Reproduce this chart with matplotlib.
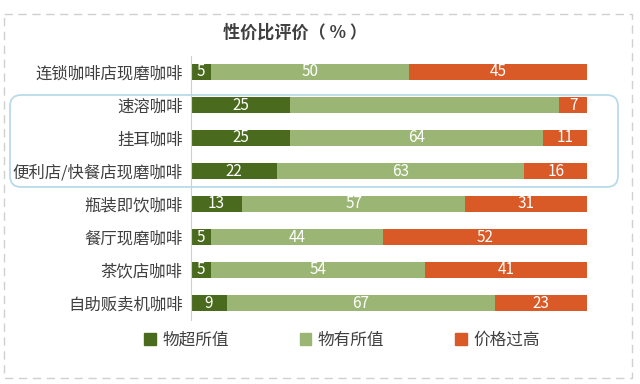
import numpy as np
import matplotlib.pyplot as plt
from matplotlib.patches import FancyBboxPatch, Rectangle, Patch

plt.rcParams['font.family'] = ['Noto Sans CJK SC', 'DejaVu Sans']

categories = ["连锁咖啡店现磨咖啡", "速溶咖啡", "挂耳咖啡", "便利店/快餐店现磨咖啡",
              "瓶装即饮咖啡", "餐厅现磨咖啡", "茶饮店咖啡", "自助贩卖机咖啡"]
series_names = ["物超所值", "物有所值", "价格过高"]
over_value = [5, 25, 25, 22, 13, 5, 5, 9]
fair_value = [50, 68, 64, 63, 57, 44, 54, 67]
too_high = [45, 7, 11, 16, 31, 52, 41, 23]
# the reference shows no label on the middle segment of 速溶咖啡
hidden_labels = {(1, 1)}

colors = ["#4a6b1d", "#9bb674", "#d95a26"]
text_gray = "#404040"

fig = plt.figure(figsize=(6.4, 3.84), dpi=100)

# overlay in pixel coordinates for frame decorations
bg = fig.add_axes([0, 0, 1, 1], zorder=0)
bg.set_xlim(0, 640)
bg.set_ylim(384, 0)
bg.axis("off")
bg.add_patch(Rectangle((4, 14), 628, 364, fill=False, ec="#d0d0d0",
                       lw=1.0, ls=(0, (6, 4))))
bg.add_patch(FancyBboxPatch((10, 95), 608, 92,
                            boxstyle="round,pad=0,rounding_size=11",
                            fill=False, ec="#b9dbe9", lw=1.3))

ax = fig.add_axes([191 / 640, 1 - 319.5 / 384, 396 / 640, 264 / 384], zorder=1)
ax.patch.set_alpha(0)

data = np.array([over_value, fair_value, too_high], dtype=float)
share = data / data.sum(axis=0) * 100
y = np.arange(len(categories))
left = np.zeros(len(categories))
for i in range(3):
    bars = ax.barh(y, share[i], left=left, height=0.48, color=colors[i],
                   label=series_names[i])
    for j, b in enumerate(bars):
        if (j, i) in hidden_labels:
            continue
        ax.text(b.get_x() + b.get_width() / 2, b.get_y() + b.get_height() / 2,
                f"{int(data[i, j])}", ha="center", va="center",
                color="white", fontsize=11)
    left += share[i]

ax.set_xlim(0, 100)
ax.set_ylim(len(categories) - 0.5, -0.5)
ax.set_yticks(y)
ax.set_yticklabels(categories, fontsize=11.8, color=text_gray)
ax.tick_params(axis="y", length=0, pad=6)
ax.set_xticks([])
for s in ["top", "right", "bottom"]:
    ax.spines[s].set_visible(False)
ax.spines["left"].set_color("#c9d0d8")

fig.text(295 / 640, 1 - 33 / 384, "性价比评价（ % ）", ha="center", va="center",
         fontsize=12.3, fontweight="bold", color=text_gray)

handles = [Patch(color=c) for c in colors]
fig.legend(handles, series_names, loc="center", bbox_to_anchor=(342 / 640, 1 - 340 / 384),
           ncol=3, frameon=False, fontsize=12, labelcolor=text_gray,
           handlelength=0.7, handleheight=0.7, handletextpad=0.4, columnspacing=4.25)

fig.savefig("out.png", dpi=100)
